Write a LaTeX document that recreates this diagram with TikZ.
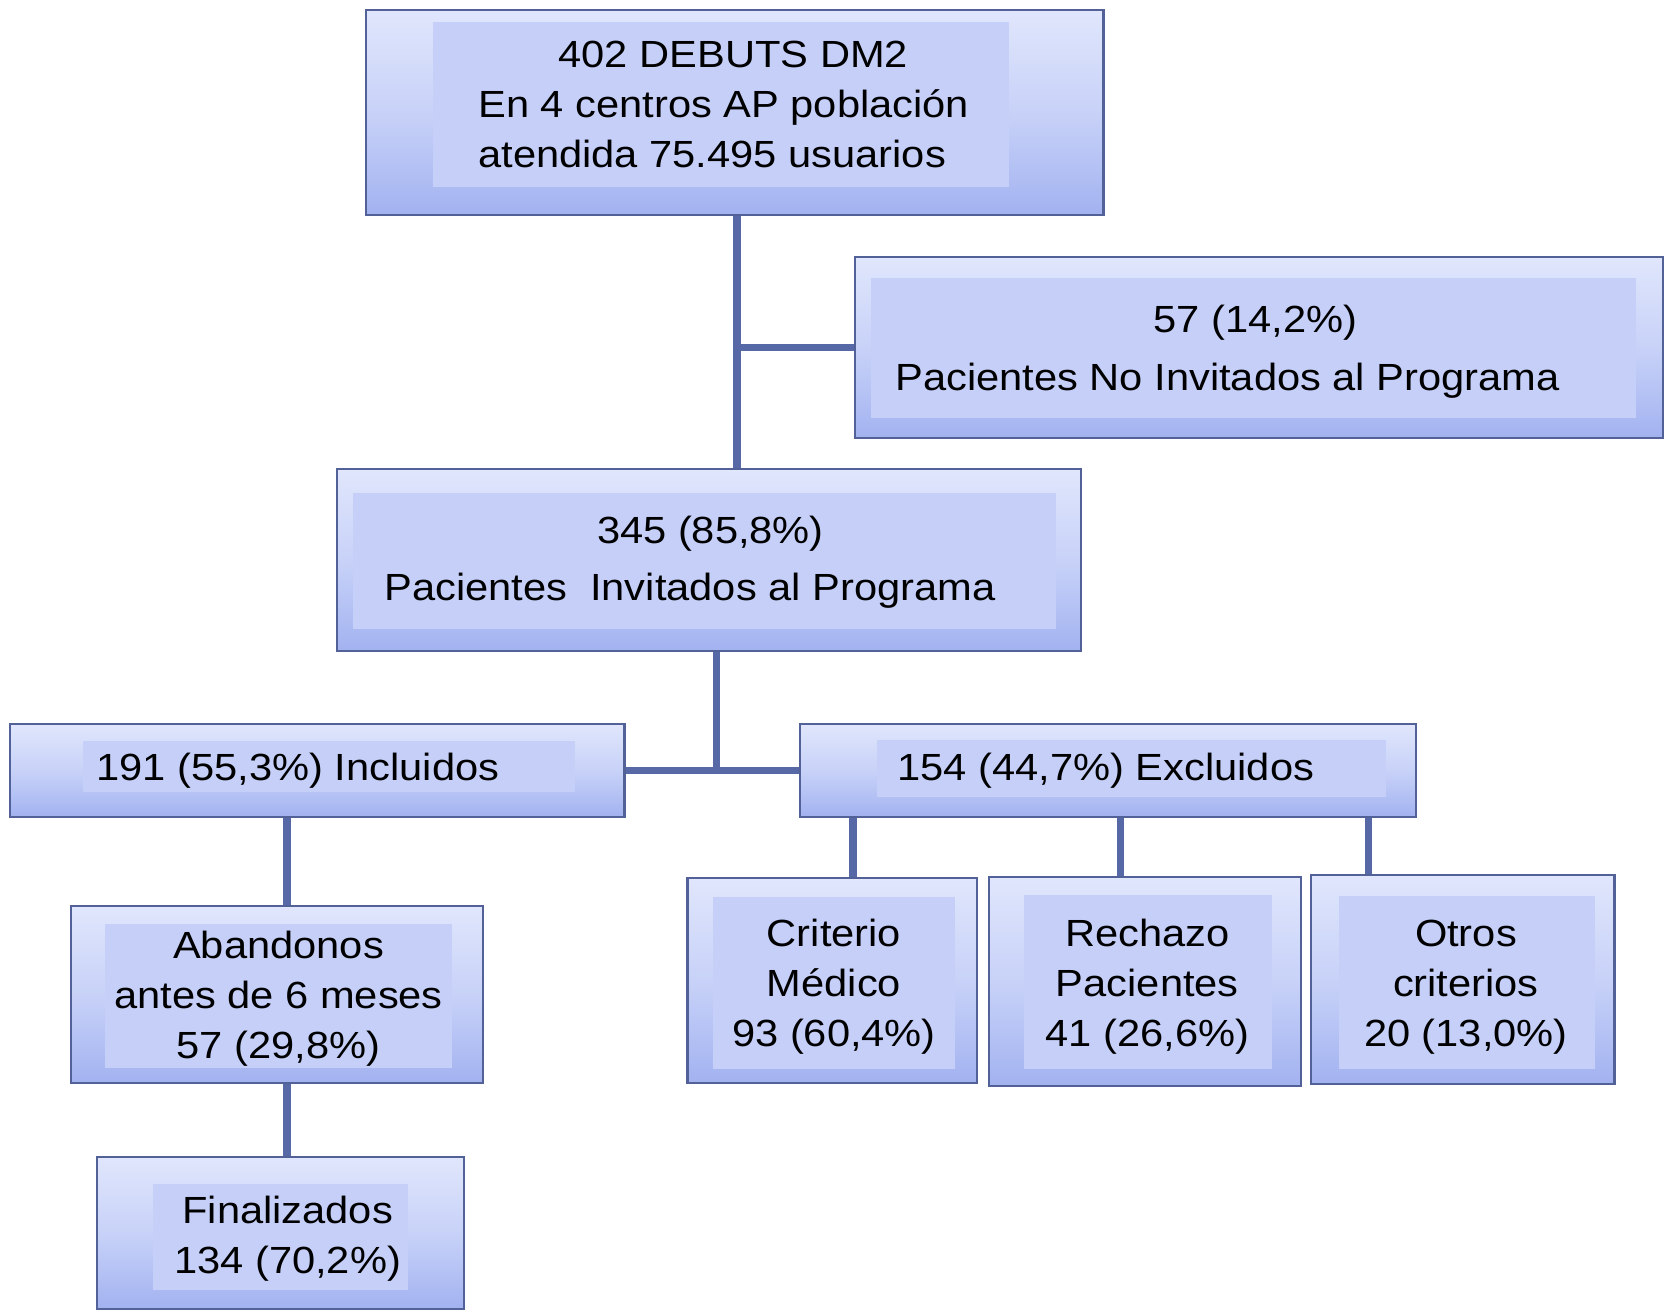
\documentclass[tikz,border=0pt]{standalone}
\usepackage{fontspec}
\setmainfont{Liberation Sans}[FakeStretch=1.1]
\usetikzlibrary{fit}
\pgfdeclarelayer{bg}
\pgfsetlayers{bg,main}
\definecolor{bdr}{RGB}{82,98,152}
\definecolor{conncol}{RGB}{86,104,166}
\definecolor{shtop}{RGB}{224,230,252}
\definecolor{shmid}{RGB}{200,210,248}
\definecolor{shbot}{RGB}{162,178,240}
\definecolor{infill}{RGB}{197,207,248}
\tikzset{
  obox/.style={draw=bdr, line width=1pt, inner sep=0pt, top color=shtop, bottom color=shbot, middle color=shmid},
  ibox/.style={fill=infill, draw=none, inner sep=0pt},
  txt/.style={inner sep=0pt, font=\fontsize{17.7}{23.5}\selectfont, text=black},
  conn/.style={draw=conncol, line width=3.6pt}
}
\begin{document}
\begin{tikzpicture}[x=0.5pt,y=0.5pt]
\useasboundingbox (0,0) rectangle (1560,-1225.5);
% boxes
\node[obox, fit={(342,-9) (1032,-201)}] (top) {};
\node[ibox, fit={(405,-21) (944,-175)}] (topin) {};
\node[txt, anchor=west, align=left] (toptx) at (447,-100.6)
  {\hspace*{37.5pt}\strut 402 DEBUTS DM2\\En 4 centros AP población\\atendida 75.495 usuarios\strut};

\node[obox, fit={(800,-240) (1555,-410)}] (noinv) {};
\node[ibox, fit={(815,-260) (1530,-391)}] (noinvin) {};
\node[txt, anchor=west, align=left] (noinvtx) at (837,-328.6)
  {\hspace*{120.8pt}\strut 57 (14,2\%)\\[3.5pt]Pacientes No Invitados al Programa\strut};

\node[obox, fit={(315,-439) (1011,-609)}] (inv) {};
\node[ibox, fit={(330,-461) (988,-588)}] (invin) {};
\node[txt, anchor=west, align=left] (invtx) at (359,-525.6)
  {\hspace*{99.5pt}\strut 345 (85,8\%)\\[3.5pt]Pacientes\ \ Invitados al Programa\strut};

\node[obox, fit={(9,-677) (584,-764)}] (incl) {};
\node[ibox, fit={(78,-693) (538,-741)}] (inclin) {};
\node[txt, anchor=base west] (incltx) at (90,-729.5) {191 (55,3\%) Incluidos};

\node[obox, fit={(748,-677) (1324,-764)}] (excl) {};
\node[ibox, fit={(820,-692) (1296,-745)}] (exclin) {};
\node[txt, anchor=base west] (excltx) at (839,-729.5) {154 (44,7\%) Excluidos};

\node[obox, fit={(66,-847) (452,-1013)}] (aband) {};
\node[ibox, fit={(98,-864) (423,-999)}] (abandin) {};
\node[txt, align=center] (abandtx) at (260.5,-934)
  {\strut Abandonos\\antes de 6 meses\\57 (29,8\%)\strut};

\node[obox, fit={(91,-1082) (434,-1224)}] (fin) {};
\node[ibox, fit={(143,-1107) (382,-1206)}] (finin) {};
\node[txt, align=center] (fintx) at (269,-1158.6)
  {\strut Finalizados\\134 (70,2\%)\strut};

\node[obox, fit={(643,-821) (914,-1013)}] (crit) {};
\node[ibox, fit={(667,-839) (893,-1000)}] (critin) {};
\node[txt, align=center] (crittx) at (780,-922.6)
  {\strut Criterio\\Médico\\93 (60,4\%)\strut};

\node[obox, fit={(925,-820) (1217,-1016)}] (rech) {};
\node[ibox, fit={(958,-837) (1190,-1000)}] (rechin) {};
\node[txt, align=center] (rechtx) at (1073,-922.6)
  {\strut Rechazo\\Pacientes\\41 (26,6\%)\strut};

\node[obox, fit={(1226,-818) (1510,-1014)}] (otros) {};
\node[ibox, fit={(1252,-838) (1492,-1000)}] (otrosin) {};
\node[txt, align=center] (otrostx) at (1371,-922.6)
  {\strut Otros\\criterios\\20 (13,0\%)\strut};

% connector x positions
\coordinate (x1) at (689,0);
\coordinate (x2) at (670,0);
\coordinate (x3) at (268.5,0);
\coordinate (x4) at (798,0);
\coordinate (x5) at (1048,0);
\coordinate (x6) at (1280,0);

\begin{pgfonlayer}{bg}
\draw[conn] (top.south -| x1) -- (inv.north -| x1);
\draw[conn] (noinv.west -| x1) -- (noinv.west);
\draw[conn] (inv.south -| x2) -- (incl.east -| x2);
\draw[conn] (incl.east) -- (excl.west);
\draw[conn] (incl.south -| x3) -- (aband.north -| x3);
\draw[conn] (aband.south -| x3) -- (fin.north -| x3);
\draw[conn] (excl.south -| x4) -- (crit.north -| x4);
\draw[conn] (excl.south -| x5) -- (rech.north -| x5);
\draw[conn] (excl.south -| x6) -- (otros.north -| x6);
\end{pgfonlayer}
\end{tikzpicture}
\end{document}
